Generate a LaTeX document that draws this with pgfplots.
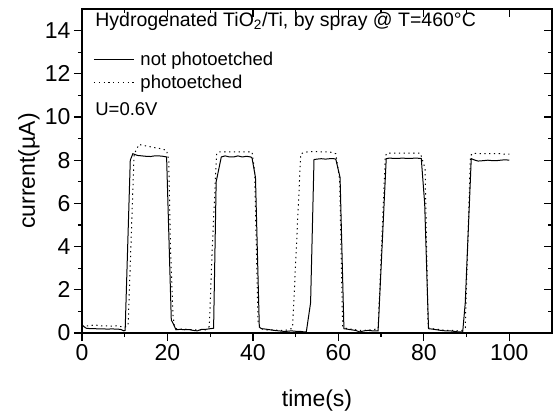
\documentclass[border=0pt]{standalone}
\usepackage{fontspec}
\setmainfont{Liberation Sans}
\usepackage{pgfplots}
\pgfplotsset{compat=1.18}
\begin{document}
\begin{tikzpicture}
\pgfplotsset{
  base/.style={width=470bp,height=324bp,scale only axis,
    xmin=0,xmax=110,ymin=0,ymax=15,
    xtick={0,20,...,100}, ytick={0,2,...,14},
    minor x tick num=1, minor y tick num=1,
    major tick length=8bp, minor tick length=4bp,
    axis line style={line width=1.2bp},
    every tick/.style={line width=1.2bp,black},
    tick label style={font=\fontsize{23bp}{25bp}\selectfont},
    label style={font=\fontsize{23bp}{25bp}\selectfont},
    /pgf/number format/assume math mode=true,
  }
}
\begin{axis}[base, name=ax, tick align=outside, xtick pos=left, ytick pos=left,
  xlabel={time(s)}, ylabel={current(µA)},
  xlabel style={at={(axis description cs:0.5,-0.207)},anchor=center},
  ylabel style={at={(axis description cs:-0.113,0.5)},anchor=center},
  legend style={at={(0.024,0.875)},anchor=north west,draw=none,fill=none,inner sep=0pt,
    font=\fontsize{18.5bp}{21bp}\selectfont, row sep=4.5bp},
  legend cell align=left,
  legend image code/.code={\draw[#1] (0bp,0bp)--(40bp,0bp); \path (44bp,0bp);},
]
\addplot[black, line width=1bp] coordinates {
(0,0.36)(1,0.22)(2,0.2)(3,0.2)(4,0.19)(5,0.19)(6,0.18)(7,0.19)(8,0.18)(9,0.17)(9.8,0.1)(10.1,0.12)
(11.3,8.0)(11.9,8.3)(13,8.22)(14,8.2)(15,8.18)(16,8.17)(17,8.2)(18,8.2)(19,8.18)(19.8,8.15)
(20.9,0.6)(21.3,0.45)(22,0.15)(23,0.17)(24,0.15)(25,0.16)(26,0.12)(27,0.1)(28,0.17)(29,0.17)(30,0.2)(30.8,0.22)
(31.4,7.0)(32.6,8.15)(33.5,8.2)(34.5,8.15)(35.5,8.15)(36.5,8.2)(37.5,8.15)(38.5,8.18)(39.5,8.15)(39.8,8.1)(40.6,7.2)
(41.5,0.27)(42,0.2)(43,0.18)(44,0.15)(45,0.12)(46,0.1)(47,0.08)(48,0.08)(49,0.1)(50,0.08)(51,0.08)(52,0.05)(52.5,0.05)
(53.5,1.4)(54.3,8.03)(55,8.05)(56,8.07)(57,8.05)(58,8.07)(58.9,8.07)(59.4,8.05)(60.4,7.2)
(61.3,0.2)(62,0.18)(63,0.15)(64,0.12)(65,0.05)(66,0.1)(67,0.12)(68,0.1)(69.3,0.1)
(71.2,8.07)(72,8.1)(73,8.08)(74,8.08)(75,8.1)(76,8.08)(77,8.08)(78,8.1)(79.4,8.08)(80.2,6.0)
(81.1,0.2)(82,0.18)(83,0.15)(84,0.12)(85,0.1)(86,0.1)(87,0.08)(88,0.05)(89.1,0.05)(89.7,1.4)
(91.1,8.07)(92,8.0)(92.7,7.96)(94,7.98)(95,8.0)(96,7.98)(97,7.98)(98,8.0)(99,8.02)(100,8.0)
};
\addlegendentry{not photoetched}
\addplot[black, line width=1bp, dash pattern=on 1.3bp off 3.5bp] coordinates {
(0,0.34)(1,0.33)(2,0.34)(3,0.38)(4,0.34)(5,0.33)(6,0.33)(7,0.32)(8,0.33)(9,0.3)(10,0.27)(10.8,0.35)
(12.2,8.3)(12.7,8.46)(13.3,8.73)(14,8.7)(15,8.66)(16,8.62)(17,8.58)(18,8.55)(19,8.5)(19.8,8.46)(20.3,8.0)(20.7,4.0)(21.3,0.8)
(21.7,0.25)(22,0.2)(23,0.18)(24,0.18)(25,0.16)(26,0.15)(27,0.14)(28,0.15)(29,0.15)(29.8,0.3)(30.5,4.0)
(31.5,8.3)(32,8.38)(33,8.38)(34,8.38)(35,8.38)(36,8.38)(37,8.38)(38,8.38)(39,8.38)(39.8,8.38)(40.4,7.5)(41.2,0.5)
(41.8,0.2)(43,0.15)(44,0.15)(45,0.14)(46,0.12)(47,0.12)(48,0.14)(49,0.2)(49.3,0.3)
(51.2,8.3)(52,8.35)(53.1,8.4)(54,8.4)(55,8.4)(56,8.38)(57,8.38)(58,8.38)(59.4,8.3)(60.3,7.1)(61,0.3)
(62,0.2)(63,0.18)(64,0.15)(65,0.12)(66,0.12)(67,0.14)(68,0.15)(69.3,0.2)
(71,8.2)(71.4,8.33)(72,8.33)(73,8.33)(74,8.33)(75,8.33)(76,8.33)(77,8.33)(78,8.33)(79.2,8.33)(80.3,7.6)(81,0.25)
(82,0.2)(83,0.18)(84,0.15)(85,0.12)(86,0.12)(87,0.12)(88,0.1)(89,0.12)(89.7,0.25)
(90.9,8.2)(91.5,8.33)(92,8.32)(93,8.3)(94,8.3)(95,8.3)(96,8.3)(97,8.3)(98,8.3)(99,8.28)(100,8.28)
};
\addlegendentry{photoetched}
\node[anchor=west,inner sep=0pt,font=\fontsize{19.5bp}{21bp}\selectfont] at (rel axis cs:0.028,0.962) {Hydrogenated TiO\textsubscript{2}/Ti, by spray @ T=460°C};
\node[anchor=west,inner sep=0pt,font=\fontsize{18.5bp}{21bp}\selectfont] at (rel axis cs:0.028,0.69) {U=0.6V};
\end{axis}
\begin{axis}[base, tick align=inside, xtick pos=right, ytick pos=right,
  xticklabels={}, yticklabels={}]
\end{axis}
\pgfresetboundingbox
\path[use as bounding box] ([xshift=-82bp,yshift=-79bp]ax.south west) rectangle ([xshift=4bp,yshift=9bp]ax.north east);
\end{tikzpicture}
\end{document}
